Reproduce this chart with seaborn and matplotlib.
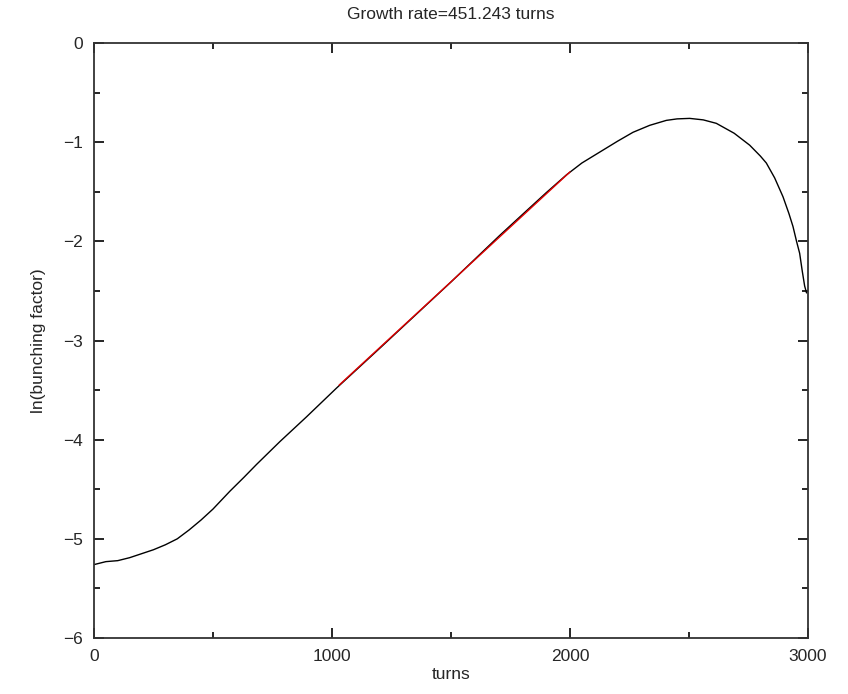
import matplotlib
matplotlib.use("Agg")
import matplotlib.pyplot as plt
from matplotlib.ticker import MultipleLocator
import pandas as pd
import seaborn as sns

# ln(bunching factor) vs turns
turns = [0, 50, 100, 150, 200, 250, 300, 350, 400, 450, 500, 571, 630, 683,
         781, 893, 1019, 1200, 1500, 1705, 1800, 1900, 1985, 2050, 2125,
         2200, 2265, 2335, 2405, 2450, 2503, 2560, 2615, 2690, 2755, 2800,
         2825, 2860, 2895, 2920, 2937, 2952, 2965, 2976, 2986, 2994]
ln_bunching = [-5.26, -5.23, -5.22, -5.19, -5.15, -5.11, -5.06, -5.00, -4.91,
               -4.81, -4.70, -4.52, -4.38, -4.25, -4.02, -3.77, -3.48, -3.08,
               -2.41, -1.94, -1.73, -1.51, -1.33, -1.21, -1.10, -0.99, -0.90,
               -0.83, -0.78, -0.765, -0.76, -0.775, -0.81, -0.91, -1.03,
               -1.14, -1.21, -1.36, -1.55, -1.72, -1.85, -2.00, -2.12, -2.30,
               -2.45, -2.52]

# exponential fit segment (growth rate 451.243 turns)
fit_turns = [1030, 2000]
fit_values = [-3.45, -1.30]

sns.set_theme(style="ticks")
plt.rcParams['font.family'] = ['Liberation Sans', 'DejaVu Sans']

fig = plt.figure(figsize=(8.48, 6.94), dpi=100)
ax = fig.add_axes([0.1108, 0.0807, 0.842, 0.8573])

curve = pd.DataFrame({"turns": turns, "ln": ln_bunching})
fit = pd.DataFrame({"turns": fit_turns, "ln": fit_values})
sns.lineplot(data=curve, x="turns", y="ln", ax=ax, color="black", linewidth=1.0)
sns.lineplot(data=fit, x="turns", y="ln", ax=ax, color="#e00000", linewidth=1.0)

ax.set_xlim(0, 3000)
ax.set_ylim(-6, 0)
ax.xaxis.set_major_locator(MultipleLocator(1000))
ax.xaxis.set_minor_locator(MultipleLocator(500))
ax.yaxis.set_major_locator(MultipleLocator(1))
ax.yaxis.set_minor_locator(MultipleLocator(0.5))
ax.tick_params(which="both", direction="in", top=True, right=True,
               labelsize=12.5, color="black", width=1.2, pad=8)
ax.tick_params(which="major", length=7)
ax.tick_params(which="minor", length=4)
ax.set_yticklabels([f"\u2212{abs(int(v))}" if v < 0 else f"{int(v)}"
                    for v in ax.get_yticks()])
for s in ax.spines.values():
    s.set_color("#333333")
    s.set_linewidth(1.3)

ax.set_title("Growth rate=451.243 turns", fontsize=12.5, pad=17)
ax.set_xlabel("turns", fontsize=12.5, labelpad=2)
ax.set_ylabel("ln(bunching factor)", fontsize=12.5, labelpad=12)

fig.savefig("out.png", dpi=100)
